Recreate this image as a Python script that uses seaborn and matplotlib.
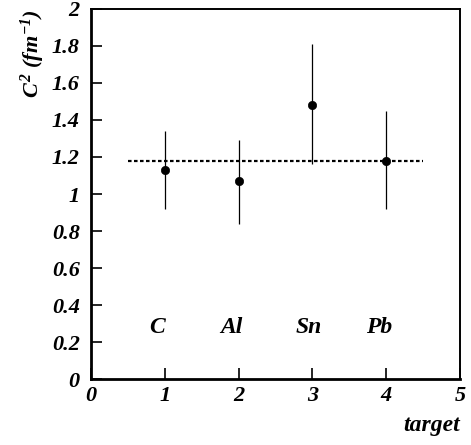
import matplotlib
matplotlib.use("Agg")
import matplotlib.pyplot as plt
import seaborn as sns
import pandas as pd
import numpy as np

# data
targets = ["C", "Al", "Sn", "Pb"]
x_pos = [1, 2, 3, 4]
c2 = [1.13, 1.07, 1.48, 1.18]
err_low = [0.92, 0.84, 1.16, 0.92]
err_high = [1.34, 1.29, 1.81, 1.45]
mean_value = 1.18
mean_xrange = [0.5, 4.5]
label_x = [0.9, 1.9, 2.95, 3.9]
label_y = 0.28
y_ticks = [0, 0.2, 0.4, 0.6, 0.8, 1, 1.2, 1.4, 1.6, 1.8, 2]
y_tick_labels = ["0", "0.2", "0.4", "0.6", "0.8", "1", "1.2", "1.4", "1.6", "1.8", "2"]
x_ticks = [0, 1, 2, 3, 4, 5]

sns.set_style("ticks")
plt.rcParams['font.family'] = ['Liberation Serif', 'DejaVu Serif']
plt.rcParams['font.weight'] = 'bold'
plt.rcParams['font.style'] = 'italic'
plt.rcParams['mathtext.fontset'] = 'custom'
plt.rcParams['mathtext.rm'] = 'Liberation Serif:italic:bold'
plt.rcParams['mathtext.it'] = 'Liberation Serif:italic:bold'
plt.rcParams['mathtext.bf'] = 'Liberation Serif:italic:bold'

df = pd.DataFrame({"x": x_pos, "y": c2, "lo": err_low, "hi": err_high, "t": targets})

fig = plt.figure(figsize=(4.71, 4.45), dpi=100)
ax = fig.add_axes([0.193, 0.148, 0.784, 0.832])

ax.vlines(df["x"], df["lo"], df["hi"], color="black", linewidth=0.9, zorder=2)
sns.scatterplot(data=df, x="x", y="y", ax=ax, color="black", s=36, edgecolor="black", zorder=3, legend=False)
sns.lineplot(x=mean_xrange, y=[mean_value, mean_value], ax=ax, color="black",
             linewidth=1.6, dashes=False, linestyle=(0, (1.6, 1.1)), zorder=1)

for lx, t in zip(label_x, targets):
    ax.text(lx, label_y, t, ha="center", va="center", fontsize=17,
            fontweight="bold", fontstyle="italic", color="black")

ax.set_xlim(0, 5)
ax.set_ylim(0, 2)
ax.set_xticks(x_ticks)
ax.set_xticklabels([str(v) for v in x_ticks])
ax.set_yticks(y_ticks)
ax.set_yticklabels(y_tick_labels)
ax.tick_params(axis="both", direction="in", length=8, width=1.2, labelsize=16, colors="black")
ax.tick_params(axis="x", pad=5)
ax.tick_params(axis="y", pad=8)
for lab in ax.get_xticklabels() + ax.get_yticklabels():
    lab.set_fontweight("bold")
    lab.set_fontstyle("italic")

for side in ["left", "bottom"]:
    ax.spines[side].set_linewidth(2.0)
for side in ["top", "right"]:
    ax.spines[side].set_linewidth(1.4)
    ax.spines[side].set_visible(True)
for s in ax.spines.values():
    s.set_color("black")

ax.set_xlabel("target", loc="right", fontsize=17, fontweight="bold", fontstyle="italic", color="black")
ax.xaxis.set_label_coords(1.0, -0.125)
ax.xaxis.label.set_va("center")
ax.set_ylabel(r"$C^{2}\ (fm^{-1})$", loc="top", fontsize=16, color="black")
ax.yaxis.set_label_coords(-0.12, 1.0)

fig.savefig("out.png", dpi=100)
